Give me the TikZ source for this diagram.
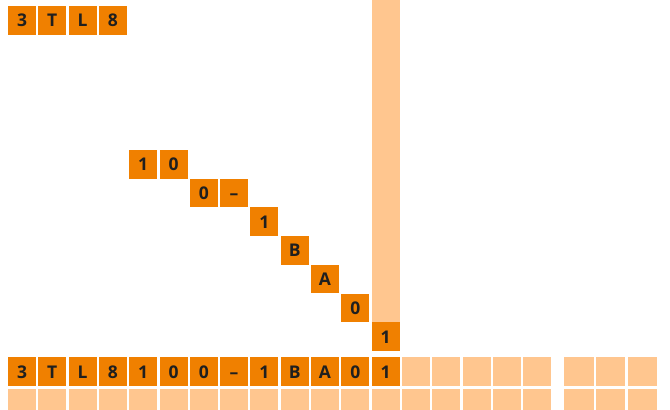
\documentclass[tikz,border=0pt]{standalone}
\usepackage{fontspec}
\newfontfamily\cellfont{Open Sans}
\usetikzlibrary{positioning}
\definecolor{codeorange}{RGB}{240,128,0}
\definecolor{codelight}{RGB}{255,198,143}

\begin{document}
\begin{tikzpicture}[
    x=1pt, y=-1pt,
    cell/.style={rectangle, fill=codeorange, inner sep=0pt,
    minimum width=28pt, minimum height=28.6pt, text=black!88,
    text height=13pt, text depth=0pt,
    font=\cellfont\bfseries\fontsize{17.5}{18}\selectfont},
    blank/.style={cell, fill=codelight},
    wideblank/.style={blank, minimum width=29.4pt} ]

    \useasboundingbox (0,0) rectangle (670,410);

    % Short code at the top
    \foreach \ch [count=\i from 0] in {3,T,L,8}
        \node[cell] (top\i) at ({22+30.3*\i},20.3) {\ch};

    % Light column above the last digit
    \fill[codelight] (372,0) rectangle (400,322);

    % Parts of the code, stepping down
    \foreach \ch/\c/\r [count=\n] in {1/4/0, 0/5/0, 0/6/1, {\textendash}/7/1,
        1/8/2, B/9/3, A/10/4, 0/11/5, 1/12/6}
        \node[cell] (part\n) at ({22+30.3*\c},{164.3+28.7*\r}) {\ch};

    % Complete code
    \foreach \ch [count=\i from 0] in {3,T,L,8,1,0,0,\textendash,1,B,A,0,1}
        \node[cell] (code\i) at ({22+30.3*\i},371.6) {\ch};

    % Free positions
    \foreach \i in {13,...,17}
        \node[blank] (free\i) at ({22+30.3*\i},371.6) {};
    \foreach \i in {0,...,17}
        \node[blank] (low\i) at ({22+30.3*\i},403) {};
    \foreach \i in {18,19,20} {
        \node[wideblank] (free\i) at ({579+31.7*(\i-18)},371.6) {};
        \node[wideblank] (low\i) at ({579+31.7*(\i-18)},403) {};
    }

\end{tikzpicture}
\end{document}
